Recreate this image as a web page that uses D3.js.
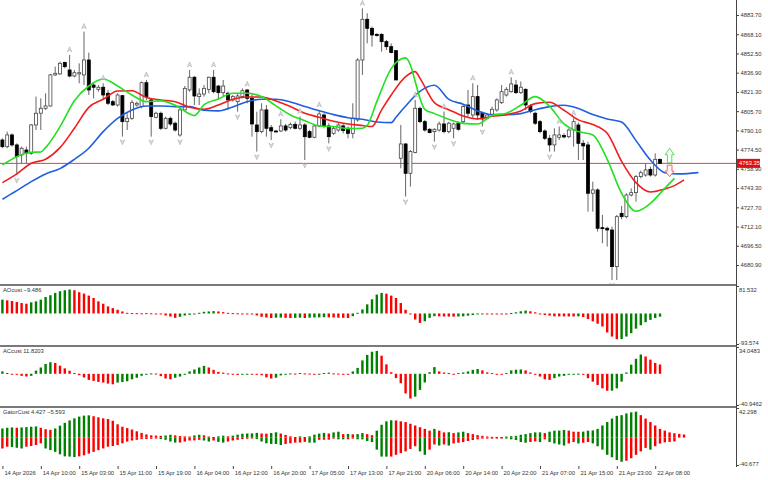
<!DOCTYPE html>
<html>
<head>
<meta charset="utf-8">
<script src="https://cdn.jsdelivr.net/npm/d3@7"></script>
<style>
  body { margin: 0; background: #fff; }
  svg { display: block; }
</style>
</head>
<body>
<div id="chart"></div>
<script>
// ---- data (H1 bars) ----
const opens = [4782.3,4776.9,4786.4,4778.3,4770.2,4774.2,4771.5,4794.5,4804.0,4808.0,4809.9,4835.1,4835.9,4845.1,4839.1,4834.2,4835.9,4835.1,4847.2,4826.9,
  4823.4,4825.1,4820.2,4813.4,4810.7,4818.3,4797.2,4799.9,4810.7,4809.4,4828.8,4814.8,4800.7,4804.0,4791.8,4799.9,4795.9,4786.4,4806.7,4822.9,
  4833.2,4817.5,4819.6,4823.4,4833.2,4826.1,4820.7,4820.2,4814.8,4813.4,4817.5,4822.9,4816.1,4794.5,4789.1,4806.7,4792.3,4789.6,4789.6,4793.7,
  4792.3,4795.0,4791.8,4794.5,4789.1,4784.5,4793.7,4802.6,4793.7,4787.7,4790.4,4793.7,4791.8,4787.7,4798.6,4847.2,4880.2,4872.9,4868.0,4868.0,
  4862.1,4858.0,4854.8,4767.5,4779.1,4755.3,4772.1,4808.0,4797.2,4791.0,4789.1,4790.4,4795.3,4789.1,4791.8,4795.9,4797.2,4810.7,4802.6,4817.5,
  4804.0,4799.9,4802.6,4806.7,4812.6,4818.8,4821.5,4826.9,4820.7,4823.4,4809.9,4804.0,4797.2,4789.6,4783.7,4778.3,4784.5,4785.9,4785.0,4790.4,
  4794.5,4779.6,4778.3,4739.1,4741.8,4711.2,4710.7,4709.3,4679.6,4722.8,4720.1,4737.7,4739.6,4752.6,4753.9,4758.5,4753.9,4766.6];
const highs = [4783.7,4789.1,4787.7,4779.6,4776.9,4776.9,4795.3,4817.5,4816.1,4820.2,4835.9,4841.8,4845.9,4845.9,4851.3,4839.1,4844.5,4870.2,4853.2,4828.3,
  4826.9,4828.3,4822.9,4814.8,4820.2,4818.8,4804.0,4814.8,4813.4,4829.7,4831.0,4816.1,4805.3,4805.3,4801.3,4801.3,4797.2,4808.0,4826.1,4839.1,
  4834.2,4824.2,4826.9,4833.7,4839.1,4826.9,4831.0,4821.5,4818.8,4820.2,4824.2,4823.4,4820.2,4805.3,4812.1,4810.7,4794.5,4790.4,4799.1,4795.3,
  4796.4,4797.2,4801.3,4795.9,4790.4,4795.3,4806.7,4804.0,4795.9,4793.2,4795.9,4795.3,4793.2,4812.1,4848.6,4889.1,4885.1,4874.3,4868.9,4868.9,
  4863.5,4860.7,4855.3,4794.5,4779.6,4774.2,4814.8,4809.4,4798.6,4791.8,4791.8,4797.2,4805.3,4797.2,4796.4,4797.2,4810.7,4822.9,4828.3,4826.9,
  4805.3,4804.0,4809.4,4816.1,4826.9,4825.1,4833.2,4831.0,4829.7,4824.2,4811.5,4805.3,4798.6,4791.0,4786.4,4791.8,4793.2,4787.7,4791.8,4799.9,
  4796.4,4782.3,4781.0,4748.5,4743.1,4721.5,4712.0,4712.0,4721.5,4728.8,4739.1,4743.1,4753.9,4757.5,4763.4,4760.7,4771.5,4767.2];
const lows = [4775.6,4775.6,4776.9,4753.9,4763.4,4763.4,4770.2,4790.4,4790.4,4806.7,4809.4,4834.2,4835.1,4840.5,4833.2,4833.2,4828.3,4826.9,4818.8,4816.1,
  4821.5,4814.8,4810.7,4809.9,4809.4,4785.0,4790.4,4798.6,4809.4,4808.0,4814.8,4785.0,4799.9,4790.4,4791.0,4793.7,4789.1,4785.0,4806.1,4821.5,
  4810.7,4810.7,4817.5,4820.2,4820.2,4814.8,4817.5,4806.7,4813.4,4805.3,4816.1,4812.1,4785.0,4772.9,4787.7,4785.0,4782.3,4788.6,4788.8,4789.1,
  4791.0,4791.0,4790.4,4766.1,4783.7,4783.7,4793.2,4791.8,4779.6,4786.4,4789.1,4787.7,4783.7,4783.7,4797.2,4835.1,4860.7,4858.0,4866.2,4854.0,
  4855.3,4852.6,4831.0,4759.3,4736.4,4744.5,4771.5,4795.9,4789.1,4787.7,4781.0,4789.1,4787.7,4787.7,4783.7,4789.9,4795.9,4801.3,4799.9,4798.6,
  4793.2,4799.1,4801.8,4805.3,4811.5,4817.5,4820.7,4819.6,4819.6,4806.7,4804.0,4794.5,4787.7,4782.3,4772.9,4772.9,4782.3,4783.7,4783.7,4776.9,
  4766.1,4766.1,4724.2,4724.2,4708.0,4698.5,4695.8,4668.7,4668.7,4718.0,4718.8,4736.4,4732.3,4751.2,4752.6,4752.6,4752.6,4763.0];
const closes = [4776.9,4786.4,4778.3,4768.8,4775.6,4771.5,4794.5,4804.0,4808.0,4809.9,4835.1,4836.4,4844.5,4841.8,4834.2,4836.9,4836.9,4847.2,4822.9,4825.1,
  4825.1,4818.8,4812.1,4810.7,4818.8,4797.2,4799.9,4812.6,4812.1,4828.8,4817.5,4801.3,4804.0,4791.8,4799.9,4795.3,4790.4,4806.7,4824.2,4833.2,
  4818.0,4819.6,4824.2,4833.2,4821.5,4820.7,4826.1,4814.8,4817.5,4818.0,4822.3,4816.1,4795.3,4789.1,4806.7,4791.8,4789.6,4789.4,4793.7,4790.4,
  4795.0,4791.8,4794.5,4785.0,4784.5,4793.7,4803.4,4793.7,4785.0,4791.8,4794.5,4789.9,4787.7,4799.9,4847.2,4880.2,4872.9,4867.5,4867.0,4862.1,
  4858.0,4853.2,4831.0,4779.1,4755.3,4772.9,4808.0,4797.2,4790.4,4788.3,4791.0,4795.3,4789.1,4795.9,4795.3,4791.0,4809.4,4804.0,4817.5,4802.6,
  4799.4,4802.6,4807.2,4814.8,4821.5,4823.4,4827.8,4820.7,4825.1,4810.7,4805.3,4795.9,4789.1,4783.7,4778.3,4786.4,4786.4,4784.8,4790.4,4797.2,
  4779.6,4777.5,4739.1,4741.8,4710.7,4710.4,4709.3,4679.6,4720.1,4720.1,4737.7,4739.6,4752.6,4755.8,4758.0,4753.9,4766.6,4763.35];

// alligator lines, [bar, price] (they run past the last bar because of their shift)
const jawLine = [[0,4734.2],[3,4741.2],[6,4748.5],[9,4754.8],[12,4759.1],[15,4766.6],[18,4775.6],[21,4789.1],[24,4799.9],[27,4806.7],
  [30,4809.9],[33,4809.9],[36,4809.4],[39,4809.4],[42,4806.4],[45,4805.9],[48,4809.1],[51,4813.4],[54,4815.3],[57,4815.3],
  [60,4813.2],[63,4809.4],[66,4806.1],[69,4802.9],[72,4800.4],[75,4799.1],[78,4796.9],[81,4796.4],[82,4800.7],[84,4809.9],
  [87,4821.8],[90,4826.7],[93,4815.3],[96,4811.3],[99,4805.9],[102,4802.9],[105,4802.9],[108,4803.7],[111,4806.9],[114,4809.4],
  [117,4810.5],[120,4807.8],[123,4802.9],[126,4799.4],[129,4796.9],[132,4781.8],[135,4766.1],[138,4755.8],[141,4754.8],[145,4755.8]];
const teethLine = [[0,4747.7],[3,4754.8],[6,4763.4],[9,4766.7],[12,4776.1],[15,4791.8],[18,4808.8],[21,4815.3],[24,4822.1],[27,4822.3],
  [30,4816.7],[33,4814.8],[36,4813.4],[39,4808.8],[42,4807.2],[45,4810.7],[48,4815.3],[51,4817.2],[54,4817.2],[57,4814.0],
  [60,4809.4],[63,4804.0],[66,4800.7],[69,4797.5],[72,4795.3],[75,4794.0],[77,4793.2],[79,4806.7],[81,4818.8],[84,4833.7],
  [86,4837.8],[87,4832.3],[90,4812.6],[93,4806.9],[96,4801.8],[99,4799.4],[102,4801.5],[105,4802.9],[108,4805.9],[111,4811.8],
  [114,4812.9],[117,4806.4],[120,4798.6],[123,4794.8],[126,4787.7],[129,4765.0],[132,4747.7],[135,4740.1],[138,4742.6],[140,4745.3],[142,4749.9]];
const lipsLine = [[0,4762.1],[3,4768.8],[6,4772.3],[8,4772.6],[9,4776.1],[12,4793.1],[15,4814.2],[18,4826.1],[21,4831.8],[24,4826.1],
  [27,4818.8],[30,4813.4],[33,4814.0],[36,4810.5],[39,4803.4],[40,4802.1],[42,4811.0],[45,4815.6],[48,4820.2],[51,4820.2],
  [54,4817.5],[57,4810.0],[60,4802.6],[63,4798.0],[66,4793.7],[69,4793.2],[72,4791.5],[75,4791.8],[76,4794.0],[78,4813.4],
  [81,4840.2],[84,4848.9],[85,4843.2],[86,4829.7],[87,4816.1],[88,4807.2],[90,4803.7],[93,4799.1],[96,4795.8],[99,4795.3],
  [102,4802.1],[105,4804.0],[108,4810.5],[111,4817.5],[114,4809.6],[117,4795.3],[120,4789.1],[123,4786.4],[126,4766.6],[129,4739.1],
  [132,4724.5],[135,4730.9],[138,4743.1],[140,4751.2]];

// fractal bars and the signal arrows at the right end
const fractalUp = [14,17,21,30,39,44,51,58,62,66,75,86,92,98,106,116,119];
const fractalDown = [3,25,31,37,49,53,56,63,68,84,90,94,100,114,127];
const signalBar = [139];
const signalUpPrice = [4775.6];
const signalDownPrice = [4752.6];
const lastPrice = 4763.35;

// indicator histograms
const aoValues = [41,39,37,34,31,29,33,36,41,49,54,61,66,69,71,69,63,59,53,46,
  36,29,21,16,11,6,2,1.2,0.9,0.5,1,0.5,-1,-3,-6,-9,-13,-10,-6,-4,
  -1,2,5,6,7,6,4,2,1,0.5,-0.5,-1,-3,-6,-10,-12,-13.5,-12.5,-12,-13,
  -13.5,-13,-12.5,-13.5,-12.5,-12,-11.5,-11,-11.5,-12,-12.5,-12.8,-13.5,-8,2,12,27,42,56,61,
  59,53,46,31,11,-1,-18,-28,-23,-13,-8,-8.5,-9,-9.2,-9.5,-9,-8.5,-6.5,-4.5,-1.5,
  -0.5,-0.6,-0.7,-0.8,-0.9,-1,1.5,3.5,6.5,8.5,6.5,3.5,-1.5,-4.5,-6.5,-8.5,-8.6,-8.7,-8.8,-8.9,
  -8.5,-10.5,-16.5,-23.5,-30.5,-38.5,-56.5,-68.5,-76.5,-76,-68.5,-58.5,-45,-35,-26,-19,-13.5,-9.486];
const acValues = [3,1,-0.5,-1,-2.6,-3.4,-2.6,4,8,12.5,14.7,13.8,10.3,6.9,3.9,0.9,-1.7,-4.7,-7.8,-9.1,
  -10.3,-11.2,-12.5,-13.4,-11.2,-10.5,-9.5,-7,-5,-2.5,-1,0.5,0.3,-3,-6,-7,-5,-3.5,0,3,
  5.5,8,10,8,5,2.5,1.5,0.5,-0.5,-1.5,-1,-0.8,-0.9,-1.2,-1.8,-4.5,-6,-5,-2,-1,
  0.5,0.3,1,0.5,0.3,-0.3,0,1,1.5,0.5,0.3,-0.3,-0.5,3,7.5,17,24,28,29,23,
  12,2,-5.5,-12,-25,-31.5,-29,-20.5,-11,2,8.5,3,1.7,0.9,0,0.9,1.7,3,5,6,
  4.3,1.7,0.9,0,-0.2,0.9,4.3,5.2,5.5,4.3,1.7,0,-3.5,-7,-7.8,-5.6,-3.5,-2.6,-1.3,-0.4,
  0.2,-1.3,-5.6,-10,-14.2,-18.5,-21.6,-21.5,-18.5,-10,1.7,11.6,19,24.5,22,18,13.8,11.8203];
const gatorUp = [13,14,14.5,14,14.5,15,15.5,16,14,12,11,13,17,21,24.5,27.5,30,31.4,31.8,30.5,
  29,27.5,26.5,24,19,15.5,13.5,11.5,9,6.7,4.5,3.2,2.8,2.5,3,4,3.2,2.2,1.7,1.5,
  3,4,3.2,1.5,0.8,1.8,2.7,1.8,2.7,4.2,5.5,5.8,6,6.7,5.8,5.6,6.5,7.5,5.8,3.8,
  1.8,0.8,1.8,0.8,1.8,4.2,5.7,6.7,5.8,7.4,8.4,4.9,5.2,4.6,5.0,6.4,4.9,3.5,9.9,18.3,
  23.2,24.7,24.5,23.2,22.2,19.8,17.3,14.8,12.4,9.9,12.4,9.9,7.4,7.6,6.4,7.4,8.4,6.4,4.9,3.5,
  2.5,1.5,1,0.9,0.8,1.5,2,2.5,4,4.9,6.4,7.4,7.5,6.4,8.4,9.9,10,10.9,9.9,8.4,
  8.3,8.5,9.9,10.2,12.4,17.3,22.2,27.2,31.1,32.1,34.6,36.1,37.1,32.1,27.2,22.2,17.3,12.4,9.9,7.4,
  6.2,5.2,4.427];
const gatorDown = [-15.6,-13.1,-13.6,-14.6,-15.6,-13.1,-12.1,-10.6,-8.2,-15.6,-18,-20.5,-24,-26.9,-27.2,-27.9,-26.9,-25.4,-23,-20.5,
  -18,-15.6,-13.1,-12.1,-10.6,-8.2,-5.7,-4.2,-3.2,-2.2,-2.1,-1.7,-1.2,-2.2,-3.2,-5.7,-7.2,-7.1,-5.7,-4.2,
  -4.1,-3.2,-4.2,-5.7,-4.2,-6.2,-7.2,-5.7,-4.2,-3.2,-2.2,-1.7,-1.2,-2.2,-5.7,-8.2,-9.1,-9.2,-10.6,-9.1,
  -8.2,-7.2,-7.1,-6.2,-7.2,-7.3,-3.2,-3.1,-3.0,-1.5,-2.5,-2.5,-2.4,-1.5,-2.5,-2.6,-4.9,-6.4,-17.3,-27.2,
  -27.3,-27.2,-24.7,-22.2,-19.8,-16.3,-12.4,-19.8,-24.7,-17.3,-9.9,-11.4,-9.9,-11.4,-8.4,-7.4,-6.4,-4.9,-3.5,-2.5,
  -1.5,-1,-0.5,-0.5,-0.4,-1.5,-2.5,-3.5,-6.4,-7.4,-6.4,-5.4,-6.4,-2.5,-6.4,-8.4,-9.9,-11.4,-8.4,-6.4,
  -8.4,-7.4,-6.4,-8.4,-12.4,-17.3,-24.7,-28.2,-32.1,-34.6,-33.1,-29.6,-24.7,-19.8,-14.8,-17.3,-12.4,-8.6,-6.9,-6.2,
  -5.593];

// axis labels
const priceTicks = [4883.70,4868.10,4852.50,4836.90,4821.30,4805.70,4790.10,4774.50,4758.90,4743.30,4727.70,4712.10,4696.50,4680.90];
const aoRange = [-93.574, 81.532];
const acRange = [-40.9462, 34.0483];
const gatorRange = [-40.677, 42.298];
const timeBars = [0,8,16,24,32,40,48,56,64,72,80,88,96,104,112,120,128,136];
const timeLabels = ["14 Apr 2026","14 Apr 10:00","15 Apr 03:00","15 Apr 11:00","15 Apr 19:00","16 Apr 04:00","16 Apr 12:00",
  "16 Apr 20:00","17 Apr 05:00","17 Apr 13:00","17 Apr 21:00","20 Apr 06:00","20 Apr 14:00","20 Apr 22:00","21 Apr 07:00",
  "21 Apr 15:00","21 Apr 23:00","22 Apr 08:00"];

// ---- drawing ----
const width = 768;
const height = 480;
const axisX = 736;
const font = "'Liberation Sans', Arial, sans-serif";
const fs = 5.8;
const GREEN = "#008000", RED = "#ff0000";

const svg = d3.select("#chart").append("svg")
  .attr("width", width).attr("height", height)
  .style("background", "#fff");

const x = d3.scaleLinear().domain([0, 137]).range([2.4, 660]);
const yPrice = d3.scaleLinear().domain([4680.9, 4883.7]).range([265, 15]);
const yAO = d3.scaleLinear().domain(aoRange).range([345, 286]);
const yAC = d3.scaleLinear().domain(acRange).range([406, 347]);
const yGator = d3.scaleLinear().domain(gatorRange).range([466, 408]);

svg.append("clipPath").attr("id", "mainClip")
  .append("rect").attr("x", 0).attr("y", 0).attr("width", axisX).attr("height", 284);

const main = svg.append("g").attr("clip-path", "url(#mainClip)");
const bars = d3.range(opens.length);

// current price line
main.append("line")
  .attr("x1", 0).attr("x2", axisX)
  .attr("y1", yPrice(lastPrice)).attr("y2", yPrice(lastPrice))
  .attr("stroke", "#d04848").attr("stroke-width", 1);

// candles: wick then body
main.selectAll("line.wick").data(bars).join("line")
  .attr("class", "wick")
  .attr("x1", i => x(i)).attr("x2", i => x(i))
  .attr("y1", i => yPrice(highs[i])).attr("y2", i => yPrice(lows[i]))
  .attr("stroke", "#666").attr("stroke-width", 1);

main.selectAll("rect.body").data(bars).join("rect")
  .attr("class", "body")
  .attr("x", i => x(i) - 1.5)
  .attr("width", 3)
  .attr("y", i => yPrice(Math.max(opens[i], closes[i])))
  .attr("height", i => Math.max(1, Math.abs(yPrice(opens[i]) - yPrice(closes[i]))))
  .attr("fill", i => closes[i] >= opens[i] ? "#fff" : "#000")
  .attr("stroke", i => closes[i] >= opens[i] ? "#444" : "#000")
  .attr("stroke-width", 0.8);

// alligator
const line = d3.line().x(d => x(d[0])).y(d => yPrice(d[1])).curve(d3.curveMonotoneX);
[[jawLine, "#1f5fe0"], [teethLine, "#f01e1e"], [lipsLine, "#22e022"]].forEach(([data, color]) => {
  main.append("path").datum(data)
    .attr("d", line)
    .attr("fill", "none")
    .attr("stroke", color)
    .attr("stroke-width", 1.6);
});

// fractals (small light grey arrowheads)
const upArrow = "M0,-2.6 L2.3,2.4 L0,1 L-2.3,2.4 Z";
const downArrow = "M0,2.6 L2.3,-2.4 L0,-1 L-2.3,-2.4 Z";
main.selectAll("path.fup").data(fractalUp).join("path")
  .attr("class", "fup")
  .attr("d", upArrow)
  .attr("transform", i => `translate(${x(i)},${yPrice(highs[i]) - 5.5})`)
  .attr("fill", "#dcdcdc").attr("stroke", "#a6a6a6").attr("stroke-width", 0.5);
main.selectAll("path.fdn").data(fractalDown).join("path")
  .attr("class", "fdn")
  .attr("d", downArrow)
  .attr("transform", i => `translate(${x(i)},${yPrice(lows[i]) + 5.5})`)
  .attr("fill", "#dcdcdc").attr("stroke", "#a6a6a6").attr("stroke-width", 0.5);

// signal arrows
signalBar.forEach((b, k) => {
  const cx = x(b), ty = yPrice(signalUpPrice[k]);
  main.append("path")
    .attr("d", `M${cx},${ty} L${cx + 4.5},${ty + 6.5} L${cx + 2.2},${ty + 6.5} L${cx + 2.2},${ty + 14.5} L${cx - 2.2},${ty + 14.5} L${cx - 2.2},${ty + 6.5} L${cx - 4.5},${ty + 6.5} Z`)
    .attr("fill", "#f2fff2").attr("stroke", "#5fd85f").attr("stroke-width", 1);
  const by = yPrice(signalDownPrice[k]);
  main.append("path")
    .attr("d", `M${cx},${by} L${cx + 4.5},${by - 5.5} L${cx + 2.4},${by - 5.5} L${cx + 2.4},${by - 11.5} L${cx - 2.4},${by - 11.5} L${cx - 2.4},${by - 5.5} L${cx - 4.5},${by - 5.5} Z`)
    .attr("fill", "#fff2f2").attr("stroke", "#f06868").attr("stroke-width", 1);
});

// histogram colours: green when rising, red when falling
function histColors(vals, useAbs, first) {
  let prev = first;
  return vals.map((v, i) => {
    if (i === 0) return prev;
    const a = useAbs ? Math.abs(v) : v;
    const b = useAbs ? Math.abs(vals[i - 1]) : vals[i - 1];
    if (a > b) prev = GREEN; else if (a < b) prev = RED;
    return prev;
  });
}

function drawHist(vals, yScale, colors) {
  const y0 = yScale(0);
  svg.append("g").selectAll("rect").data(vals).join("rect")
    .attr("x", (v, i) => x(i) - 1.2)
    .attr("width", 2.4)
    .attr("y", v => Math.min(y0, yScale(v)))
    .attr("height", v => Math.max(1, Math.abs(yScale(v) - y0)))
    .attr("fill", (v, i) => colors[i]);
}

drawHist(aoValues, yAO, histColors(aoValues, false, GREEN));
drawHist(acValues, yAC, histColors(acValues, false, GREEN));
drawHist(gatorUp, yGator, histColors(gatorUp, true, GREEN));
drawHist(gatorDown, yGator, histColors(gatorDown, true, RED));

// panel separators
[284, 345, 406].forEach(y => {
  svg.append("rect").attr("x", 0).attr("y", y).attr("width", axisX).attr("height", 2).attr("fill", "#7a7a7a");
});

// right scale
svg.append("line")
  .attr("x1", axisX + 0.5).attr("x2", axisX + 0.5).attr("y1", 0).attr("y2", 467)
  .attr("stroke", "#444");

const priceAxis = svg.append("g")
  .attr("transform", `translate(${axisX},0)`)
  .call(d3.axisRight(yPrice).tickValues(priceTicks).tickSize(3).tickFormat(d3.format(".2f")));
priceAxis.select(".domain").remove();
priceAxis.selectAll("line").attr("stroke", "#444");
priceAxis.selectAll("text").attr("x", 4.5).attr("fill", "#333")
  .style("font-size", fs + "px").style("font-family", font);

// current price tag
const py = yPrice(lastPrice);
svg.append("rect").attr("x", axisX + 1).attr("y", py - 4.5).attr("width", 23).attr("height", 9).attr("fill", "#dd1111");
svg.append("text").attr("x", axisX + 3).attr("y", py + 2)
  .attr("fill", "#fff").style("font-size", fs + "px").style("font-family", font)
  .text(d3.format(".2f")(lastPrice));

// sub-window scales (max at top, min at bottom)
[[aoRange, yAO], [acRange, yAC], [gatorRange, yGator]].forEach(([r, s]) => {
  const top = s(r[1]), bottom = s(r[0]);
  svg.append("line").attr("x1", axisX).attr("x2", axisX + 3).attr("y1", top + 0.5).attr("y2", top + 0.5).attr("stroke", "#444");
  svg.append("line").attr("x1", axisX).attr("x2", axisX + 3).attr("y1", bottom - 0.5).attr("y2", bottom - 0.5).attr("stroke", "#444");
  svg.append("text").attr("x", axisX + 3).attr("y", top + 5.5).attr("fill", "#333")
    .style("font-size", fs + "px").style("font-family", font).text(String(r[1]));
  svg.append("text").attr("x", axisX + 3).attr("y", bottom - 0.5).attr("fill", "#333")
    .style("font-size", fs + "px").style("font-family", font).text(String(r[0]));
});

// window titles
const titles = [
  [`AOcust ${d3.format(".3f")(aoValues[aoValues.length - 1])}`, 292],
  [`ACcust ${d3.format(".4f")(acValues[acValues.length - 1])}`, 353],
  [`GatorCust ${d3.format(".3f")(gatorUp[gatorUp.length - 1])} ${d3.format(".3f")(gatorDown[gatorDown.length - 1])}`, 414]
];
titles.forEach(([t, y]) => {
  svg.append("text").attr("x", 3).attr("y", y).attr("fill", "#333")
    .style("font-size", fs + "px").style("font-family", font).text(t);
});

// time axis
const timeAxis = svg.append("g")
  .attr("transform", "translate(0,466)")
  .call(d3.axisBottom(x).tickValues(timeBars).tickSize(3).tickSizeOuter(0).tickFormat((d, k) => timeLabels[k]));
timeAxis.select(".domain").remove();
timeAxis.selectAll("line").attr("stroke", "#444");
timeAxis.selectAll("text")
  .attr("text-anchor", "start").attr("x", 1.5).attr("y", 4.5).attr("fill", "#333")
  .style("font-size", fs + "px").style("font-family", font);
</script>
</body>
</html>
